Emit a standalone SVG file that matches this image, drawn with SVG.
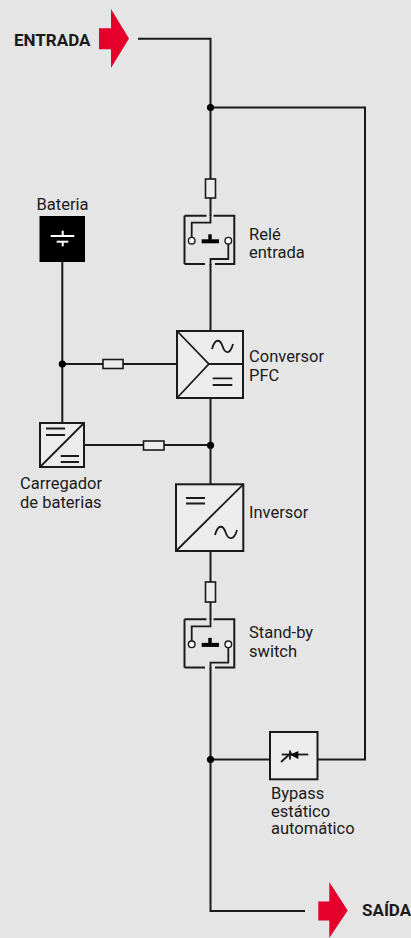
<svg xmlns="http://www.w3.org/2000/svg" width="411" height="938" viewBox="0 0 411 938">
<defs>
<style>
.w{fill:none;stroke:#1a1a1a;stroke-width:2}
.box{fill:#ececec;stroke:#1a1a1a;stroke-width:2}
.in{fill:none;stroke:#1a1a1a;stroke-width:1.8}
.fuse{fill:#ececec;stroke:#1a1a1a;stroke-width:1.6}
.dot{fill:#000}
.lbl{font-family:Roboto,"Liberation Sans",sans-serif;font-size:16.5px;fill:#1a1a1a}
.big{font-family:Roboto,"Liberation Sans",sans-serif;font-size:17px;font-weight:700;fill:#1a1a1a}
.red{fill:#e4002b}
</style>
<g id="sw">
<path class="w" d="M184.5,215.7 H206.5 M213.5,215.7 H234.3 V264 H215 M205,264 H184.5 Z"/>
<path class="w" d="M184.5,215.7 V264"/>
<path class="in" d="M210.5,215 V222.7 H191.7 V237.4"/>
<path class="in" d="M210.5,265 V259 H228.3 V244"/>
<circle cx="191.7" cy="240.7" r="3.3" fill="#fff" stroke="#1a1a1a" stroke-width="1.4"/>
<circle cx="228.3" cy="240.7" r="3.3" fill="#fff" stroke="#1a1a1a" stroke-width="1.4"/>
<rect x="201.7" y="239.3" width="17.3" height="4" fill="#000"/>
<rect x="208.3" y="234.3" width="3.4" height="5.5" fill="#000"/>
</g>
</defs>
<rect width="411" height="938" fill="#e5e5e5"/>

<g id="connectors">
<path class="w" d="M138,38.7 H210.5 V215.7"/>
<path class="w" d="M210.5,264 V331"/>
<path class="w" d="M210.5,398 V484"/>
<path class="w" d="M210.5,551 V619.3"/>
<path class="w" d="M210.5,667.5 V911 H305"/>
<path class="w" d="M210.5,107.5 H365 V759.5 H318"/>
<path class="w" d="M210.5,759.5 H270"/>
<path class="w" d="M62.3,262 V423"/>
<path class="w" d="M62.3,364 H177"/>
<path class="w" d="M84,445 H210.5"/>
<rect class="fuse" x="205.5" y="179" width="10" height="19"/>
<rect class="fuse" x="205.5" y="582" width="10" height="20"/>
<rect class="fuse" x="103" y="359.5" width="20" height="9"/>
<rect class="fuse" x="143.5" y="441" width="20.5" height="9"/>
<circle class="dot" cx="210.5" cy="107.5" r="3.6"/>
<circle class="dot" cx="62.3" cy="364" r="3.6"/>
<circle class="dot" cx="210.5" cy="445.3" r="3.6"/>
<circle class="dot" cx="210.5" cy="759.5" r="3.6"/>
</g>

<g id="entrada">
<text class="big" x="14" y="46">ENTRADA</text>
<polygon class="red" points="99,28.3 111,28.3 111,9 129,38.5 111,68 111,49.3 99,49.3"/>
</g>

<g id="saida">
<polygon class="red" points="318.3,901.5 329.3,901.5 329.3,882 347.7,910.5 329.3,938 329.3,920.5 318.3,920.5"/>
<text class="big" x="362" y="916">SAÍDA</text>
</g>

<g id="bateria">
<rect x="39.5" y="216" width="45.5" height="46" fill="#000"/>
<rect x="50.7" y="235" width="23.6" height="2" fill="#fff"/>
<rect x="56.7" y="240.7" width="11.6" height="2" fill="#fff"/>
<rect x="61.7" y="230.7" width="2" height="5" fill="#fff"/>
<rect x="61.7" y="242" width="2" height="4.3" fill="#fff"/>
<text class="lbl" x="62.5" y="209.5" text-anchor="middle">Bateria</text>
</g>

<g id="rele-entrada">
<use href="#sw"/>
<text class="lbl" x="249" y="240">Relé</text>
<text class="lbl" x="249" y="258">entrada</text>
</g>

<g id="conversor-pfc">
<rect class="box" x="177" y="331" width="66" height="67"/>
<path class="in" d="M177,331 L208.8,364 L177,398 M208.8,364 H243"/>
<path class="in" d="M212,349 C215,338 220,339 222.5,346 C225,354 230,355 233,344"/>
<path class="in" d="M212.7,378.3 H232.3 M212.7,385 H232.3"/>
<text class="lbl" x="249" y="362">Conversor</text>
<text class="lbl" x="249" y="381">PFC</text>
</g>

<g id="carregador">
<rect class="box" x="40" y="423" width="44" height="44"/>
<path class="in" d="M40,467 L84,423"/>
<path class="in" d="M46,428.5 H65 M46,435 H65 M60.7,456 H79 M60.7,462 H79"/>
<text class="lbl" x="20" y="489">Carregador</text>
<text class="lbl" x="20" y="507.5">de baterias</text>
</g>

<g id="inversor">
<rect class="box" x="176" y="484.3" width="67.3" height="66.7"/>
<path class="in" d="M176,551 L243.3,484.3"/>
<path class="in" d="M186,498 H205 M186,503.5 H205"/>
<path class="in" d="M215,535 C218,524 223,525 225.5,532 C228,540 234,541 237,530"/>
<text class="lbl" x="249" y="517.5">Inversor</text>
</g>

<g id="standby-switch">
<use href="#sw" transform="translate(0,403.6)"/>
<text class="lbl" x="249" y="638">Stand-by</text>
<text class="lbl" x="249" y="656.5">switch</text>
</g>

<g id="bypass">
<rect class="box" x="270" y="732" width="47.5" height="47.3"/>
<path class="in" d="M281.7,754.5 H308.3"/>
<polygon points="290,754.8 298.3,751 298.3,759" fill="#000"/>
<path class="in" d="M290,750.5 V759.5"/>
<path class="in" d="M281,762 L291.5,752.5"/>
<text class="lbl" x="271" y="798.5">Bypass</text>
<text class="lbl" x="271" y="816.5">estático</text>
<text class="lbl" x="271" y="834">automático</text>
</g>
</svg>
